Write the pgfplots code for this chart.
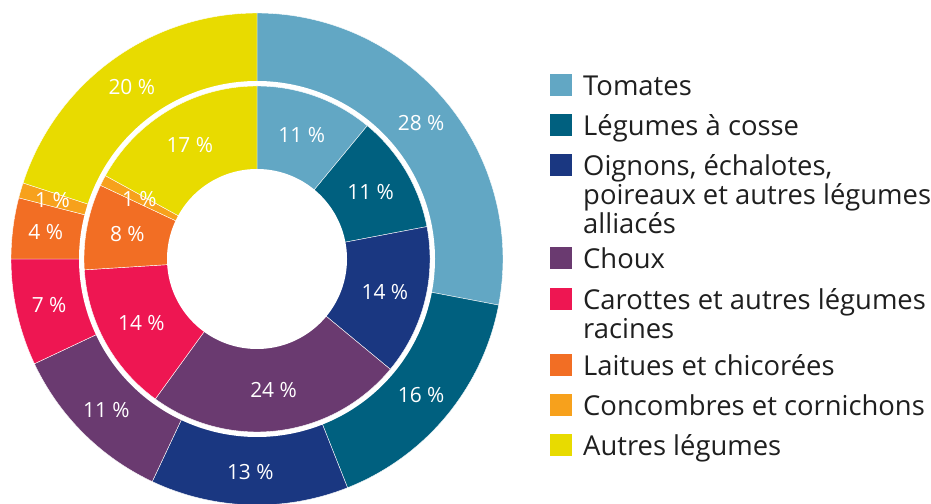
\documentclass[border=0pt]{standalone}
\usepackage{pgfplots}
\pgfplotsset{compat=1.18}
\usepackage{fontspec}
\setmainfont{Open Sans}

\definecolor{tomate}{HTML}{62A7C4}
\definecolor{cosse}{HTML}{00607F}
\definecolor{oignon}{HTML}{1A3781}
\definecolor{choux}{HTML}{6A3A70}
\definecolor{carotte}{HTML}{EE1652}
\definecolor{laitue}{HTML}{F26E24}
\definecolor{concombre}{HTML}{F7A11C}
\definecolor{autres}{HTML}{E8DB00}

% shares (in %) of each vegetable group, outer and inner ring
\def\outerring{28/tomate,16/cosse,13/oignon,11/choux,7/carotte,4/laitue,1/concombre,20/autres}
\def\innerring{11/tomate,11/cosse,14/oignon,24/choux,14/carotte,8/laitue,1/concombre,17/autres}

% wedges of one ring: #1 radius, #2 value/colour list
\newcommand\donutring[2]{%
  \gdef\cumul{0}%
  \foreach \val/\col in #2 {%
    \pgfmathsetmacro\angA{90-3.6*\cumul}%
    \pgfmathsetmacro\angB{90-3.6*(\cumul+\val)}%
    \edef\temp{\noexpand\addplot[forget plot, fill=\col, draw=white, line width=0.4bp,
        domain=\angB:\angA, samples=90] ({#1*cos(x)},{#1*sin(x)}) -- (0,0) -- cycle;}%
    \temp
    \pgfmathsetmacro\newcum{\cumul+\val}%
    \xdef\cumul{\newcum}%
  }%
}

% percentage labels of one ring: #1 label radius, #2 value/colour list
\newcommand\ringlabels[2]{%
  \gdef\cumul{0}%
  \foreach \val/\col in #2 {%
    \pgfmathsetmacro\angM{90-3.6*(\cumul+\val/2)}%
    \pgfmathsetmacro\lx{#1*cos(\angM)}%
    \pgfmathsetmacro\ly{#1*sin(\angM)}%
    \edef\temp{\noexpand\node[text=white, font=\noexpand\fontsize{21}{24}\noexpand\selectfont]
        at (\lx,\ly) {\val\noexpand\ \noexpand\%};}%
    \temp
    \pgfmathsetmacro\newcum{\cumul+\val}%
    \xdef\cumul{\newcum}%
  }%
}

% legend key: #1 colour, #2 top of the swatch (axis units), #3 text
\newcommand\legkey[3]{%
  \fill[#1] (293,#2) rectangle (315,#2-22);
  \node[anchor=base west, inner sep=0pt, text=black!88,
        font=\fontsize{27.5}{26.5}\selectfont]
    at (326,#2-22) {\begin{tabular}[t]{@{}l@{}}#3\end{tabular}};
}

\begin{document}
\begin{tikzpicture}
\begin{axis}[
  scale only axis, width=931bp, height=504bp,
  xmin=-257, xmax=674, ymin=-245, ymax=259,
  axis line style={draw=none},
  xtick=\empty, ytick=\empty,
]
\donutring{246}{\outerring}
\addplot[forget plot, fill=white, draw=none, domain=0:360, samples=241] ({178*cos(x)},{178*sin(x)}) -- cycle;
\donutring{173}{\innerring}
\addplot[forget plot, fill=white, draw=none, domain=0:360, samples=181] ({90*cos(x)},{90*sin(x)}) -- cycle;
\ringlabels{213}{\outerring}
\ringlabels{132}{\innerring}

\legkey{tomate}{185}{Tomates}
\legkey{cosse}{145}{Légumes à cosse}
\legkey{oignon}{105}{Oignons, échalotes,\\poireaux et autres légumes\\alliacés}
\legkey{choux}{12}{Choux}
\legkey{carotte}{-29}{Carottes et autres légumes\\racines}
\legkey{laitue}{-95}{Laitues et chicorées}
\legkey{concombre}{-135}{Concombres et cornichons}
\legkey{autres}{-175}{Autres légumes}
\end{axis}
\end{tikzpicture}
\end{document}
